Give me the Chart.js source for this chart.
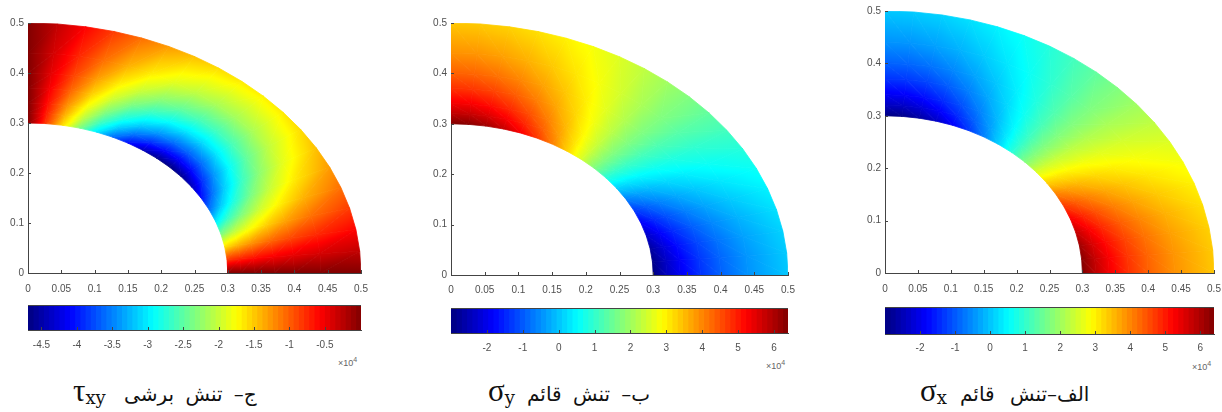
<!DOCTYPE html>
<html lang="fa">
<head>
  <meta charset="UTF-8" />
  <title>Stress fields</title>
  <script src="https://cdn.jsdelivr.net/npm/chart.js"></script>
  <style>
    html, body { margin: 0; background: #fff; overflow: hidden; width: 1222px; height: 412px; }
    canvas { position: absolute; }
    .mult { position: absolute; font: 9px "Liberation Sans", sans-serif; color: #666; white-space: nowrap; }
    .mult sup { font-size: 7px; line-height: 0; }
    .sym { position: absolute; font: 31px "Liberation Serif", serif; color: #111; white-space: nowrap; line-height: 24px; }
    .sym span { position: relative; top: 3px; font-family: "DejaVu Serif", serif; font-size: 18px; }
    .cap { position: absolute; font: 20px "DejaVu Sans", sans-serif; color: #111; direction: rtl; white-space: nowrap; line-height: 24px; word-spacing: 5px; }
  </style>
</head>
<body>
  <div class="mult" style="left:338px;top:358px">×10<sup>4</sup></div>
  <div class="mult" style="left:766px;top:361px">×10<sup>4</sup></div>
  <div class="mult" style="left:1192px;top:362px">×10<sup>4</sup></div>

  <div class="sym" style="left:73px;top:379px">τ<span>xy</span></div>
  <div class="cap" style="left:124px;top:382px">ج– تنش برشی</div>
  <div class="sym" style="left:488px;top:379px">σ<span>y</span></div>
  <div class="cap" style="left:527px;top:382px">ب– تنش قائم</div>
  <div class="sym" style="left:920px;top:379px">σ<span>x</span></div>
  <div class="cap" style="left:960px;top:382px;word-spacing:9px">الف–تنش قائم</div>

  <script>
    // mesh nodes
    const radii = [0.30, 0.32, 0.34, 0.37, 0.40, 0.44, 0.50];
    const anglesDeg = [0, 5, 10, 15, 20, 25, 30, 35, 40, 45, 50, 55, 60, 65, 70, 75, 80, 85, 90];

    // values x 10^4, one row per radius, one column per angle
    const tauXY = [
      [0, -0.82, -1.60, -2.35, -3.02, -3.59, -4.06, -4.41, -4.62, -4.69, -4.62, -4.41, -4.06, -3.59, -3.02, -2.35, -1.60, -0.82, 0],
      [0, -0.72, -1.41, -2.06, -2.65, -3.16, -3.57, -3.87, -4.06, -4.12, -4.06, -3.87, -3.57, -3.16, -2.65, -2.06, -1.41, -0.72, 0],
      [0, -0.64, -1.25, -1.83, -2.35, -2.80, -3.16, -3.43, -3.60, -3.65, -3.60, -3.43, -3.16, -2.80, -2.35, -1.83, -1.25, -0.64, 0],
      [0, -0.54, -1.05, -1.54, -1.98, -2.36, -2.67, -2.90, -3.03, -3.08, -3.03, -2.90, -2.67, -2.36, -1.98, -1.54, -1.05, -0.54, 0],
      [0, -0.46, -0.90, -1.32, -1.70, -2.02, -2.29, -2.48, -2.60, -2.64, -2.60, -2.48, -2.29, -2.02, -1.70, -1.32, -0.90, -0.46, 0],
      [0, -0.38, -0.75, -1.09, -1.40, -1.67, -1.89, -2.05, -2.15, -2.18, -2.15, -2.05, -1.89, -1.67, -1.40, -1.09, -0.75, -0.38, 0],
      [0, -0.29, -0.58, -0.85, -1.09, -1.29, -1.46, -1.59, -1.66, -1.69, -1.66, -1.59, -1.46, -1.29, -1.09, -0.85, -0.58, -0.29, 0]
    ];
    const sigmaY = [
      [-3.00, -2.92, -2.71, -2.36, -1.89, -1.32, -0.65, 0.10, 0.88, 1.70, 2.52, 3.30, 4.05, 4.72, 5.29, 5.76, 6.11, 6.32, 6.39],
      [-2.42, -2.36, -2.17, -1.87, -1.46, -0.95, -0.36, 0.29, 0.98, 1.70, 2.42, 3.11, 3.76, 4.35, 4.86, 5.27, 5.57, 5.76, 5.82],
      [-1.95, -1.90, -1.73, -1.46, -1.10, -0.65, -0.13, 0.45, 1.06, 1.70, 2.34, 2.95, 3.53, 4.05, 4.50, 4.86, 5.13, 5.30, 5.35],
      [-1.38, -1.33, -1.20, -0.97, -0.66, -0.28, 0.16, 0.65, 1.16, 1.70, 2.24, 2.75, 3.24, 3.68, 4.06, 4.37, 4.60, 4.73, 4.78],
      [-0.94, -0.90, -0.78, -0.59, -0.32, 0, 0.38, 0.80, 1.24, 1.70, 2.16, 2.60, 3.02, 3.40, 3.72, 3.99, 4.18, 4.30, 4.34],
      [-0.48, -0.45, -0.35, -0.19, 0.03, 0.30, 0.61, 0.95, 1.32, 1.70, 2.08, 2.45, 2.79, 3.10, 3.37, 3.59, 3.75, 3.85, 3.88],
      [0.01, 0.04, 0.11, 0.24, 0.41, 0.61, 0.85, 1.12, 1.41, 1.70, 1.99, 2.28, 2.55, 2.79, 2.99, 3.16, 3.29, 3.36, 3.39]
    ];
    const sigmaX = [
      [6.39, 6.32, 6.11, 5.76, 5.29, 4.72, 4.05, 3.30, 2.52, 1.70, 0.88, 0.10, -0.65, -1.32, -1.89, -2.36, -2.71, -2.92, -3.00],
      [5.82, 5.76, 5.57, 5.27, 4.86, 4.35, 3.76, 3.11, 2.42, 1.70, 0.98, 0.29, -0.36, -0.95, -1.46, -1.87, -2.17, -2.36, -2.42],
      [5.35, 5.30, 5.13, 4.86, 4.50, 4.05, 3.53, 2.95, 2.34, 1.70, 1.06, 0.45, -0.13, -0.65, -1.10, -1.46, -1.73, -1.90, -1.95],
      [4.78, 4.73, 4.60, 4.37, 4.06, 3.68, 3.24, 2.75, 2.24, 1.70, 1.16, 0.65, 0.16, -0.28, -0.66, -0.97, -1.20, -1.33, -1.38],
      [4.34, 4.30, 4.18, 3.99, 3.72, 3.40, 3.02, 2.60, 2.16, 1.70, 1.24, 0.80, 0.38, 0, -0.32, -0.59, -0.78, -0.90, -0.94],
      [3.88, 3.85, 3.75, 3.59, 3.37, 3.10, 2.79, 2.45, 2.08, 1.70, 1.32, 0.95, 0.61, 0.30, 0.03, -0.19, -0.35, -0.45, -0.48],
      [3.39, 3.36, 3.29, 3.16, 2.99, 2.79, 2.55, 2.28, 1.99, 1.70, 1.41, 1.12, 0.85, 0.61, 0.41, 0.24, 0.11, 0.04, 0.01]
    ];

    // tick labels
    const axisTicksX = [0, 0.05, 0.1, 0.15, 0.2, 0.25, 0.3, 0.35, 0.4, 0.45, 0.5];
    const axisTicksY = [0, 0.1, 0.2, 0.3, 0.4, 0.5];
    const tauTicks = [-4.5, -4, -3.5, -3, -2.5, -2, -1.5, -1, -0.5];
    const sigmaTicks = [-2, -1, 0, 1, 2, 3, 4, 5, 6];

    // colour limits
    const tauRange = [-4.69, 0.01];
    const sigmaRange = [-3.0, 6.39];

    const jetAnchors = [
      [0, 0, 0, 128], [0.125, 0, 0, 255], [0.375, 0, 255, 255],
      [0.625, 255, 255, 0], [0.875, 255, 0, 0], [1, 128, 0, 0]
    ];
    const jetLevels = 64;
    const textColor = '#505050';
    const axisColor = '#444';
    const labelFont = { family: '"Liberation Sans", sans-serif', size: 10 };

    function jet(t) {
      t = Math.min(1, Math.max(0, t));
      for (let i = 1; i < jetAnchors.length; i++) {
        const a = jetAnchors[i - 1], b = jetAnchors[i];
        if (t <= b[0]) {
          const k = (t - a[0]) / (b[0] - a[0]);
          const c = [1, 2, 3].map(n => Math.round(a[n] + (b[n] - a[n]) * k));
          return `rgb(${c[0]},${c[1]},${c[2]})`;
        }
      }
      return 'rgb(128,0,0)';
    }

    // linear shading over one triangle of the mesh
    function triangleShade(chart, tri, range) {
      const sx = chart.scales.x, sy = chart.scales.y;
      const toT = v => (v - range[0]) / (range[1] - range[0]);
      const lo = Math.min(tri[0].v, tri[1].v, tri[2].v);
      const hi = Math.max(tri[0].v, tri[1].v, tri[2].v);
      if (!sx || !sy || hi - lo < 1e-6) return jet(toT(lo));
      const p = tri.map(n => [sx.getPixelForValue(n.x), sy.getPixelForValue(n.y), n.v]);
      const e1x = p[1][0] - p[0][0], e1y = p[1][1] - p[0][1], d1 = p[1][2] - p[0][2];
      const e2x = p[2][0] - p[0][0], e2y = p[2][1] - p[0][1], d2 = p[2][2] - p[0][2];
      const det = e1x * e2y - e2x * e1y;
      const a = (d1 * e2y - d2 * e1y) / det;
      const b = (e1x * d2 - e2x * d1) / det;
      const n2 = a * a + b * b;
      // scales have no size yet on the first pass
      if (!isFinite(n2) || n2 < 1e-12) return jet(toT(lo));
      const x0 = p[0][0] + a * (lo - p[0][2]) / n2;
      const y0 = p[0][1] + b * (lo - p[0][2]) / n2;
      const x1 = x0 + a * (hi - lo) / n2;
      const y1 = y0 + b * (hi - lo) / n2;
      const g = chart.ctx.createLinearGradient(x0, y0, x1, y1);
      for (let i = 0; i <= 12; i++) {
        g.addColorStop(i / 12, jet(toT(lo + (hi - lo) * i / 12)));
      }
      return g;
    }

    function meshDatasets(values, range) {
      const node = (i, j) => {
        const th = anglesDeg[j] * Math.PI / 180;
        return { x: radii[i] * Math.cos(th), y: radii[i] * Math.sin(th), v: values[i][j] };
      };
      const sets = [];
      const addTri = tri => {
        const shade = ctx => triangleShade(ctx.chart, tri, range);
        sets.push({
          data: [tri[0], tri[1], tri[2], tri[0]],
          showLine: true,
          fill: 'shape',
          pointRadius: 0,
          borderWidth: 0.8,
          backgroundColor: shade,
          borderColor: shade
        });
      };
      for (let i = 0; i < radii.length - 1; i++) {
        for (let j = 0; j < anglesDeg.length - 1; j++) {
          const a = node(i, j), b = node(i + 1, j), c = node(i + 1, j + 1), d = node(i, j + 1);
          if (Math.abs(a.v - c.v) < Math.abs(b.v - d.v)) {
            addTri([a, b, c]); addTri([a, c, d]);
          } else {
            addTri([a, b, d]); addTri([b, c, d]);
          }
        }
      }
      return sets;
    }

    // matlab style ticks, pointing into the plot
    const inwardTicks = {
      id: 'inwardTicks',
      afterDraw(chart) {
        const c = chart.ctx, a = chart.chartArea, sx = chart.scales.x, sy = chart.scales.y;
        c.save();
        c.strokeStyle = axisColor;
        c.lineWidth = 1;
        c.beginPath();
        sx.ticks.forEach(t => {
          const x = Math.round(sx.getPixelForValue(t.value)) + 0.5;
          c.moveTo(x, a.bottom);
          c.lineTo(x, a.bottom - 3);
        });
        if (sy.options.display) {
          sy.ticks.forEach(t => {
            const y = Math.round(sy.getPixelForValue(t.value)) + 0.5;
            c.moveTo(a.left, y);
            c.lineTo(a.left + 3, y);
          });
        } else {
          // colorbar: dark top edge
          c.moveTo(a.left, a.top + 0.5);
          c.lineTo(a.right, a.top + 0.5);
        }
        c.stroke();
        c.restore();
      }
    };

    function addCanvas(left, top, width, height) {
      const cv = document.createElement('canvas');
      cv.width = width;
      cv.height = height;
      cv.style.left = left + 'px';
      cv.style.top = top + 'px';
      document.body.appendChild(cv);
      return cv;
    }

    function noPadding(s) {
      s.paddingLeft = s.paddingRight = s.paddingTop = s.paddingBottom = 0;
    }

    function fieldChart(box, values, range, labelGap) {
      const pad = { left: 28, top: 8, right: 8, bottom: 24 };
      const cv = addCanvas(box.left - pad.left, box.top - pad.top,
        box.right - box.left + pad.left + pad.right, box.bottom - box.top + pad.top + pad.bottom);
      new Chart(cv, {
        type: 'scatter',
        data: { datasets: meshDatasets(values, range) },
        options: {
          responsive: false,
          animation: false,
          events: [],
          layout: { padding: { top: pad.top, right: pad.right } },
          plugins: { legend: { display: false }, tooltip: { enabled: false } },
          scales: {
            x: {
              type: 'linear', min: 0, max: 0.5,
              grid: { display: false, drawTicks: false },
              border: { color: axisColor },
              ticks: { color: textColor, font: labelFont, padding: labelGap, maxRotation: 0, autoSkip: false, callback: v => String(v) },
              afterBuildTicks: s => { s.ticks = axisTicksX.map(value => ({ value })); },
              afterFit: s => { s.height = pad.bottom; noPadding(s); }
            },
            y: {
              type: 'linear', min: 0, max: 0.5,
              grid: { display: false, drawTicks: false },
              border: { color: axisColor },
              ticks: { color: textColor, font: labelFont, padding: 4, autoSkip: false, callback: v => String(v) },
              afterBuildTicks: s => { s.ticks = axisTicksY.map(value => ({ value })); },
              afterFit: s => { s.width = pad.left; noPadding(s); }
            }
          }
        },
        plugins: [inwardTicks]
      });
    }

    function colorbarChart(box, range, tickValues, labelGap) {
      const pad = { left: 6, top: 2, right: 6, bottom: 20 };
      const cv = addCanvas(box.left - pad.left, box.top - pad.top,
        box.right - box.left + pad.left + pad.right, box.bottom - box.top + pad.top + pad.bottom);
      const step = (range[1] - range[0]) / jetLevels;
      const datasets = [];
      // first dataset is painted last, so each bar only shows its own level
      for (let i = 0; i < jetLevels; i++) {
        datasets.push({
          data: [[range[0], range[0] + (i + 1) * step]],
          backgroundColor: jet((i + 0.5) / jetLevels),
          borderWidth: 0,
          categoryPercentage: 1,
          barPercentage: 1
        });
      }
      new Chart(cv, {
        type: 'bar',
        data: { labels: [''], datasets },
        options: {
          indexAxis: 'y',
          responsive: false,
          animation: false,
          events: [],
          layout: { padding: { left: pad.left, top: pad.top, right: pad.right } },
          plugins: { legend: { display: false }, tooltip: { enabled: false } },
          scales: {
            x: {
              type: 'linear', min: range[0], max: range[1],
              grid: { display: false, drawTicks: false },
              border: { color: axisColor },
              ticks: { color: textColor, font: labelFont, padding: labelGap, maxRotation: 0, autoSkip: false, callback: v => String(v) },
              afterBuildTicks: s => { s.ticks = tickValues.map(value => ({ value })); },
              afterFit: s => { s.height = pad.bottom; noPadding(s); }
            },
            y: { display: false, stacked: true, grid: { display: false } }
          }
        },
        plugins: [inwardTicks]
      });
    }

    fieldChart({ left: 28, right: 361, top: 23, bottom: 273 }, tauXY, tauRange, 10);
    fieldChart({ left: 451, right: 788, top: 23, bottom: 275 }, sigmaY, sigmaRange, 9);
    fieldChart({ left: 885, right: 1214, top: 11, bottom: 273 }, sigmaX, sigmaRange, 10);

    colorbarChart({ left: 28, right: 361, top: 305, bottom: 330 }, tauRange, tauTicks, 9);
    colorbarChart({ left: 451, right: 788, top: 308, bottom: 333 }, sigmaRange, sigmaTicks, 9);
    colorbarChart({ left: 885, right: 1214, top: 307, bottom: 334 }, sigmaRange, sigmaTicks, 8);
  </script>
</body>
</html>
